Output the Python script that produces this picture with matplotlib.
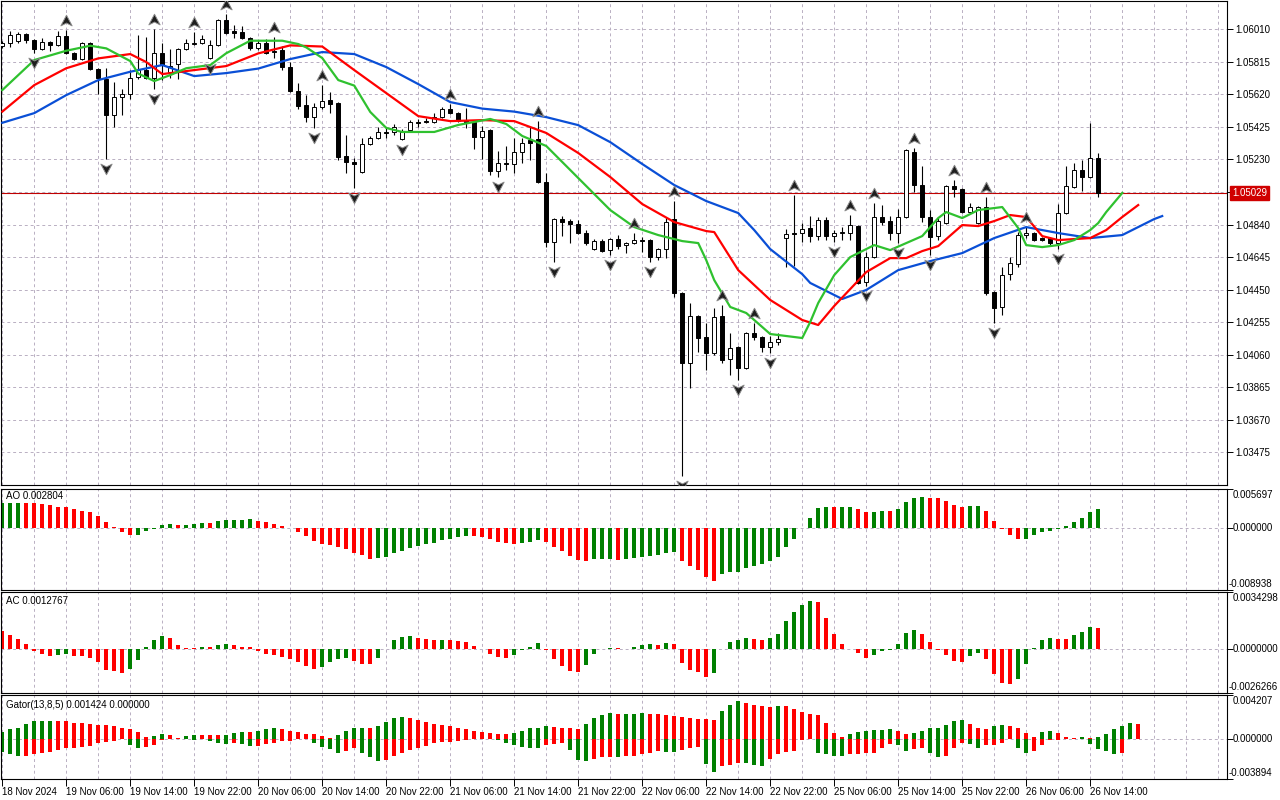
import matplotlib
matplotlib.use("Agg")
import matplotlib.pyplot as plt
import matplotlib.transforms as mtransforms
from matplotlib.path import Path
import numpy as np

plt.rcParams["font.family"] = ["Liberation Sans", "DejaVu Sans"]
plt.rcParams["font.size"] = 7

# EURUSD H1, first bar 18 Nov 22:00, last bar 26 Nov 15:00
opens = [1.05910, 1.05928, 1.05940, 1.05982, 1.05946, 1.05892, 1.05934, 1.05916, 1.05970, 1.05868,
         1.05832, 1.05928, 1.05773, 1.05713, 1.05497, 1.05605, 1.05623, 1.05725, 1.05767, 1.05719,
         1.05868, 1.05755, 1.05802, 1.05892, 1.05922, 1.05928, 1.05838, 1.05916, 1.06066, 1.06000,
         1.05994, 1.05958, 1.05898, 1.05928, 1.05874, 1.05886, 1.05784, 1.05641, 1.05557, 1.05485,
         1.05545, 1.05587, 1.05569, 1.05251, 1.05215, 1.05155, 1.05323, 1.05359, 1.05395, 1.05395,
         1.05353, 1.05407, 1.05455, 1.05461, 1.05455, 1.05485, 1.05533, 1.05509, 1.05467, 1.05455,
         1.05365, 1.05407, 1.05161, 1.05209, 1.05203, 1.05275, 1.05347, 1.05353, 1.05095, 1.04736,
         1.04874, 1.04862, 1.04844, 1.04790, 1.04694, 1.04742, 1.04688, 1.04754, 1.04718, 1.04730,
         1.04748, 1.04748, 1.04646, 1.04694, 1.04874, 1.04430, 1.04011, 1.04292, 1.04166, 1.04071,
         1.04292, 1.04035, 1.04107, 1.03981, 1.04191, 1.04167, 1.04107, 1.04137, 1.04760, 1.04787,
         1.04790, 1.04820, 1.04772, 1.04868, 1.04772, 1.04790, 1.04790, 1.04832, 1.04496, 1.04646,
         1.04886, 1.04862, 1.04790, 1.04886, 1.05275, 1.05077, 1.04886, 1.04772, 1.04850, 1.05071,
         1.05053, 1.04916, 1.04850, 1.04946, 1.04436, 1.04346, 1.04544, 1.04604, 1.04778, 1.04790,
         1.04760, 1.04760, 1.04730, 1.04910, 1.05065, 1.05167, 1.05125, 1.05239]
highs = [1.05940, 1.06000, 1.05994, 1.05988, 1.05952, 1.05958, 1.05940, 1.06000, 1.06006, 1.05874,
         1.05934, 1.05934, 1.05779, 1.05779, 1.05695, 1.05653, 1.05767, 1.05976, 1.05964, 1.06012,
         1.05928, 1.05892, 1.05898, 1.05952, 1.05994, 1.05976, 1.05946, 1.06072, 1.06102, 1.06036,
         1.06030, 1.05964, 1.05946, 1.05952, 1.05964, 1.05910, 1.05814, 1.05689, 1.05617, 1.05568,
         1.05677, 1.05635, 1.05575, 1.05377, 1.05239, 1.05359, 1.05371, 1.05425, 1.05425, 1.05443,
         1.05413, 1.05467, 1.05473, 1.05479, 1.05509, 1.05545, 1.05563, 1.05515, 1.05539, 1.05461,
         1.05431, 1.05413, 1.05281, 1.05311, 1.05359, 1.05359, 1.05425, 1.05461, 1.05149, 1.04880,
         1.04892, 1.04874, 1.04868, 1.04808, 1.04754, 1.04754, 1.04760, 1.04778, 1.04736, 1.04790,
         1.04766, 1.04754, 1.04700, 1.04886, 1.04981, 1.04436, 1.04370, 1.04298, 1.04250, 1.04340,
         1.04358, 1.04191, 1.04113, 1.04197, 1.04250, 1.04173, 1.04173, 1.04191, 1.04814, 1.05017,
         1.04850, 1.04892, 1.04886, 1.04886, 1.04808, 1.04826, 1.04898, 1.04838, 1.04676, 1.04970,
         1.04958, 1.04892, 1.04934, 1.05293, 1.05299, 1.05191, 1.04928, 1.04886, 1.05077, 1.05107,
         1.05059, 1.04970, 1.04952, 1.05005, 1.04442, 1.04586, 1.04646, 1.04796, 1.04826, 1.04796,
         1.04766, 1.04766, 1.04964, 1.05191, 1.05209, 1.05227, 1.05449, 1.05269]
lows = [1.05898, 1.05904, 1.05928, 1.05928, 1.05868, 1.05886, 1.05880, 1.05910, 1.05862, 1.05826,
        1.05826, 1.05767, 1.05623, 1.05233, 1.05425, 1.05497, 1.05593, 1.05713, 1.05713, 1.05653,
        1.05707, 1.05719, 1.05713, 1.05886, 1.05916, 1.05922, 1.05832, 1.05910, 1.05982, 1.05958,
        1.05952, 1.05886, 1.05886, 1.05862, 1.05838, 1.05767, 1.05635, 1.05533, 1.05455, 1.05419,
        1.05533, 1.05509, 1.05227, 1.05149, 1.05059, 1.05149, 1.05317, 1.05353, 1.05359, 1.05377,
        1.05347, 1.05401, 1.05425, 1.05449, 1.05449, 1.05479, 1.05503, 1.05455, 1.05419, 1.05293,
        1.05233, 1.05137, 1.05125, 1.05167, 1.05149, 1.05209, 1.05227, 1.05089, 1.04706, 1.04616,
        1.04772, 1.04730, 1.04784, 1.04718, 1.04688, 1.04676, 1.04658, 1.04694, 1.04670, 1.04724,
        1.04676, 1.04616, 1.04628, 1.04640, 1.04406, 1.03333, 1.03861, 1.04077, 1.03969, 1.04059,
        1.04011, 1.03939, 1.03909, 1.03975, 1.04148, 1.04077, 1.04071, 1.04119, 1.04586, 1.04592,
        1.04736, 1.04736, 1.04748, 1.04748, 1.04736, 1.04748, 1.04748, 1.04484, 1.04472, 1.04640,
        1.04838, 1.04748, 1.04730, 1.04880, 1.05035, 1.04856, 1.04658, 1.04748, 1.04844, 1.05005,
        1.04910, 1.04910, 1.04844, 1.04418, 1.04250, 1.04298, 1.04508, 1.04586, 1.04760, 1.04742,
        1.04742, 1.04718, 1.04694, 1.04904, 1.05059, 1.05041, 1.05119, 1.05005]
closes = [1.05928, 1.05976, 1.05982, 1.05946, 1.05892, 1.05934, 1.05916, 1.05970, 1.05868, 1.05832,
          1.05928, 1.05773, 1.05719, 1.05497, 1.05605, 1.05623, 1.05719, 1.05767, 1.05719, 1.05868,
          1.05796, 1.05790, 1.05892, 1.05928, 1.05928, 1.05952, 1.05916, 1.06066, 1.05988, 1.05988,
          1.05958, 1.05898, 1.05928, 1.05868, 1.05880, 1.05784, 1.05641, 1.05551, 1.05485, 1.05545,
          1.05580, 1.05563, 1.05245, 1.05215, 1.05203, 1.05323, 1.05359, 1.05395, 1.05389, 1.05425,
          1.05395, 1.05455, 1.05449, 1.05455, 1.05485, 1.05533, 1.05509, 1.05461, 1.05455, 1.05365,
          1.05401, 1.05161, 1.05209, 1.05203, 1.05275, 1.05329, 1.05329, 1.05095, 1.04736, 1.04874,
          1.04856, 1.04844, 1.04790, 1.04730, 1.04742, 1.04682, 1.04754, 1.04712, 1.04730, 1.04748,
          1.04742, 1.04646, 1.04694, 1.04856, 1.04430, 1.04011, 1.04292, 1.04160, 1.04071, 1.04286,
          1.04029, 1.04101, 1.03981, 1.04191, 1.04167, 1.04107, 1.04137, 1.04155, 1.04784, 1.04784,
          1.04814, 1.04772, 1.04868, 1.04772, 1.04790, 1.04796, 1.04838, 1.04490, 1.04646, 1.04886,
          1.04856, 1.04790, 1.04886, 1.05287, 1.05077, 1.04886, 1.04766, 1.04862, 1.05071, 1.05053,
          1.04916, 1.04946, 1.04946, 1.04430, 1.04340, 1.04538, 1.04610, 1.04778, 1.04790, 1.04748,
          1.04748, 1.04730, 1.04910, 1.05071, 1.05167, 1.05125, 1.05239, 1.05029]
last_price = 1.05029

# fractal bars (index of the bar carrying the arrow)
frac_up = [8, 19, 24, 28, 34, 40, 56, 67, 79, 84, 90, 94, 99, 106, 109, 114, 119, 123, 128]
frac_dn = [4, 13, 19, 26, 39, 44, 50, 62, 69, 76, 81, 85, 92, 96, 104, 108, 112, 116, 124, 132]

# Alligator lines (bar index, price), shifted lines run past the last bar
jaw_idx = [0, 4, 8, 12, 16, 20, 24, 28, 32, 36, 40, 44, 48, 52, 56, 60, 64, 68, 72, 76,
           80, 84, 88, 92, 94, 96, 100, 101, 105, 108, 112, 116, 120, 124, 128, 132, 136, 140, 144, 145]
jaw_val = [1.05450, 1.05508, 1.05616, 1.05706, 1.05756, 1.05796, 1.05730, 1.05748, 1.05775, 1.05832,
           1.05874, 1.05862, 1.05784, 1.05682, 1.05574, 1.05535, 1.05517, 1.05484, 1.05436, 1.05334,
           1.05203, 1.05077, 1.04981, 1.04909, 1.04807, 1.04693, 1.04543, 1.04490, 1.04394, 1.04448,
           1.04567, 1.04621, 1.04669, 1.04759, 1.04825, 1.04789, 1.04759, 1.04777, 1.04873, 1.04891]
teeth_idx = [0, 4, 8, 12, 16, 18, 20, 24, 28, 32, 36, 40, 44, 48, 52, 56, 60, 64, 68, 72,
             76, 80, 84, 88, 89, 92, 96, 100, 102, 104, 108, 111, 113, 115, 117, 120, 122, 124, 126, 128,
             130, 132, 136, 138, 140, 142]
teeth_val = [1.05517, 1.05676, 1.05777, 1.05836, 1.05862, 1.05814, 1.05742, 1.05766, 1.05790, 1.05866,
             1.05914, 1.05907, 1.05766, 1.05628, 1.05490, 1.05460, 1.05466, 1.05460, 1.05389, 1.05269,
             1.05125, 1.04963, 1.04855, 1.04801, 1.04795, 1.04567, 1.04388, 1.04268, 1.04238, 1.04352,
             1.04555, 1.04639, 1.04639, 1.04681, 1.04711, 1.04837, 1.04831, 1.04861, 1.04897, 1.04885,
             1.04771, 1.04747, 1.04759, 1.04807, 1.04885, 1.04957]
lips_idx = [0, 4, 8, 11, 13, 16, 17, 19, 21, 23, 26, 28, 31, 35, 37, 38, 40, 42, 44, 46,
            48, 50, 54, 57, 61, 63, 65, 68, 71, 74, 76, 79, 82, 85, 87, 88, 89, 91, 93, 96,
            98, 100, 101, 102, 104, 106, 109, 111, 113, 115, 117, 118, 120, 122, 124, 125, 127, 128, 130, 132,
            134, 136, 137, 138, 140]
lips_val = [1.05646, 1.05826, 1.05882, 1.05912, 1.05896, 1.05820, 1.05745, 1.05700, 1.05736, 1.05777,
            1.05796, 1.05867, 1.05942, 1.05942, 1.05922, 1.05902, 1.05838, 1.05706, 1.05673, 1.05515,
            1.05419, 1.05395, 1.05395, 1.05437, 1.05473, 1.05443, 1.05371, 1.05311, 1.05167, 1.05023,
            1.04927, 1.04825, 1.04777, 1.04741, 1.04729, 1.04627, 1.04507, 1.04346, 1.04310, 1.04184,
            1.04172, 1.04160, 1.04256, 1.04370, 1.04537, 1.04645, 1.04717, 1.04687, 1.04729, 1.04771,
            1.04879, 1.04915, 1.04879, 1.04927, 1.04939, 1.04945, 1.04819, 1.04717, 1.04705, 1.04717,
            1.04747, 1.04807, 1.04849, 1.04915, 1.05029]

# Awesome Oscillator, x 1e-4
ao = [36.1, 36.3, 36.6, 36.3, 36.1, 34.9, 33.5, 31.5, 30.6, 27.7,
      25.8, 23.4, 18.2, 9.6, 2.4, -4.8, -9.6, -9.1, -3.8, -0.5,
      4.8, 6.2, 4.8, 5.0, 6.2, 7.6, 7.4, 10.5, 12.0, 12.2,
      12.4, 13.4, 10.5, 9.1, 6.7, 3.3, 1.0, -4.8, -10.5, -18.2,
      -22.5, -23.9, -26.8, -29.6, -35.4, -39.2, -44.0, -43.5, -41.1, -35.4,
      -32.5, -28.2, -25.3, -22.5, -21.0, -16.7, -15.3, -12.4, -11.0, -11.2,
      -12.9, -15.3, -19.6, -21.0, -22.5, -21.0, -19.6, -16.7, -19.6, -26.8,
      -32.5, -39.7, -46.4, -47.8, -44.9, -44.7, -44.5, -45.2, -44.7, -43.5,
      -42.1, -40.6, -39.2, -36.3, -34.9, -47.8, -55.0, -60.7, -70.7, -76.5,
      -66.4, -63.6, -63.1, -57.8, -55.0, -52.1, -47.8, -42.1, -27.7, -14.8,
      0.2, 14.8, 29.2, 30.6, 30.4, 30.6, 30.8, 27.7, 23.4, 23.7,
      24.9, 24.6, 27.7, 37.8, 43.5, 44.9, 43.5, 43.3, 39.2, 33.5,
      30.6, 32.0, 32.3, 24.9, 10.5, -1.0, -9.1, -15.3, -15.1, -9.1,
      -4.8, -3.3, -0.5, 3.3, 9.1, 14.8, 23.4, 28.04]
ao_prev = 35.8

# Accelerator Oscillator, x 1e-4
ac = [10.8, 8.6, 6.2, 3.2, -0.8, -2.6, -3.8, -3.2, -3.1, -3.8,
      -3.9, -5.2, -7.4, -12.4, -13.0, -14.2, -11.6, -6.2, 1.4, 5.6,
      8.0, 6.8, 2.6, 0.8, 0.6, 1.4, 1.3, 2.6, 3.2, 2.6,
      1.4, 1.3, -1.2, -2.6, -3.2, -4.6, -5.6, -7.4, -9.8, -11.6,
      -10.6, -7.4, -5.6, -5.5, -6.8, -8.6, -8.7, -5.0, 0.1, 5.6,
      7.4, 8.0, 6.8, 6.2, 5.6, 5.7, 5.6, 5.0, 4.4, 2.0,
      0.2, -2.6, -4.4, -5.0, -3.2, -0.6, 1.4, 3.8, -0.4, -5.6,
      -9.8, -12.8, -13.6, -9.2, -2.6, 0.1, 0.6, 0.5, 0.2, 1.4,
      2.6, 3.2, 2.6, 3.8, 3.2, -8.0, -12.2, -13.4, -16.4, -14.0,
      0.1, 4.4, 5.6, 6.8, 6.2, 5.6, 6.8, 9.2, 17.0, 22.4,
      26.6, 29.0, 28.4, 18.8, 9.2, 3.2, 0.2, -2.0, -5.0, -3.2,
      -0.8, -0.2, 3.2, 9.8, 11.6, 9.2, 4.4, -0.4, -3.2, -6.8,
      -7.4, -3.8, -2.0, -5.6, -14.6, -20.0, -20.6, -17.6, -8.6, 0.6,
      5.6, 6.8, 6.2, 6.1, 8.6, 10.4, 13.4, 12.767]
ac_prev = 11.3

# Gator oscillator, x 1e-4 (runs 5 bars past the last candle)
gator_up = [6.8, 8.8, 10.7, 13.7, 16.6, 16.7, 16.9, 16.7, 16.6, 15.3,
            14.6, 13.7, 13.5, 13.3, 11.7, 10.7, 8.8, 6.8, 2.0, 2.1,
            4.9, 3.9, 1.0, 2.9, 3.9, 3.6, 3.4, 3.3, 3.9, 5.9,
            6.8, 6.7, 7.8, 8.8, 9.8, 8.8, 7.8, 6.8, 4.9, 4.7,
            2.9, 1.0, 3.9, 7.8, 9.8, 9.9, 9.8, 11.7, 15.6, 19.5,
            20.5, 19.5, 17.6, 15.6, 13.7, 13.5, 11.7, 10.7, 8.8, 7.8,
            6.8, 5.9, 4.9, 4.7, 5.9, 7.8, 9.8, 10.7, 11.7, 11.5,
            10.7, 9.8, 9.6, 13.7, 19.5, 22.4, 24.4, 23.4, 23.6, 23.7,
            24.4, 24.2, 23.4, 22.4, 21.5, 20.5, 19.5, 19.3, 18.5, 17.6,
            26.3, 32.2, 36.1, 34.1, 32.2, 31.2, 30.2, 31.2, 31.0, 28.3,
            25.4, 23.4, 23.2, 14.6, 5.9, 2.0, 4.9, 6.8, 7.8, 8.0,
            8.1, 8.8, 7.8, 4.9, 5.0, 7.8, 9.8, 9.9, 12.7, 16.6,
            17.6, 13.7, 9.8, 8.8, 11.7, 12.7, 11.7, 9.8, 5.9, 2.0,
            6.8, 7.8, 5.9, 2.0, 1.0, 2.0, 1.0, 2.0, 4.9, 8.8,
            11.7, 14.6, 14.24]
gator_up_prev = 5.5
gator_dn = [-12.7, -15.3, -17.2, -16.3, -14.6, -14.3, -13.3, -11.4, -9.4, -8.8,
            -8.5, -7.5, -4.6, -3.6, -2.6, -0.7, -6.5, -9.4, -8.5, -6.5,
            -1.6, -0.7, -0.3, -0.7, -1.3, -0.7, -2.6, -4.6, -5.5, -4.6,
            -5.5, -7.5, -7.2, -5.5, -4.6, -2.6, -2.0, -0.7, -0.3, -3.9,
            -8.5, -10.4, -13.7, -11.7, -9.4, -13.7, -18.2, -21.1, -20.2, -16.3,
            -13.7, -10.7, -8.8, -7.5, -3.9, -3.7, -2.9, -2.0, -1.0, -0.8,
            -0.6, 0.0, -1.6, -3.9, -5.9, -8.5, -8.6, -8.8, -6.5, -5.5,
            -4.6, -11.4, -20.2, -21.1, -19.2, -18.2, -18.0, -18.2, -17.2, -16.9,
            -15.3, -14.3, -12.4, -12.7, -13.0, -10.7, -8.8, -7.8, -24.4, -32.2,
            -26.0, -25.0, -23.1, -23.7, -25.0, -26.0, -19.5, -14.6, -12.7, -12.4,
            -1.6, 0.0, -13.7, -15.3, -16.3, -17.2, -15.3, -15.1, -13.7, -13.5,
            -9.4, -4.9, -6.5, -11.7, -10.4, -8.8, -13.7, -18.2, -16.3, -8.8,
            -3.9, -5.5, -9.4, -6.5, -6.3, -3.9, 0.0, -9.4, -13.7, -11.7,
            -6.5, -1.6, -1.0, -0.2, -0.1, 0.0, -5.5, -10.4, -12.4, -15.3,
            -14.3, 0.0, 0.0]
gator_dn_prev = -11.0

price_labels = ["1.06010", "1.05815", "1.05620", "1.05425", "1.05230", "", "1.04840",
                "1.04645", "1.04450", "1.04255", "1.04060", "1.03865", "1.03670", "1.03475"]
price_grid = [1.06010, 1.05815, 1.05620, 1.05425, 1.05230, 1.05035, 1.04840,
              1.04645, 1.04450, 1.04255, 1.04060, 1.03865, 1.03670, 1.03475]
time_labels = ["18 Nov 2024", "19 Nov 06:00", "19 Nov 14:00", "19 Nov 22:00", "20 Nov 06:00",
               "20 Nov 14:00", "20 Nov 22:00", "21 Nov 06:00", "21 Nov 14:00", "21 Nov 22:00",
               "22 Nov 06:00", "22 Nov 14:00", "22 Nov 22:00", "25 Nov 06:00", "25 Nov 14:00",
               "25 Nov 22:00", "26 Nov 06:00", "26 Nov 14:00"]
time_tick_bars = [0, 8, 16, 24, 32, 40, 48, 56, 64, 72, 80, 88, 96, 104, 112, 120, 128, 136]

GREEN = "#008000"
RED = "#ff0000"
GRID = "#b9afc2"

W, H = 1280, 800


def rect(top, bottom, left=1, right=1227):
    return [left / W, 1 - bottom / H, (right - left) / W, (bottom - top) / H]


def hist_colors(vals, prev, use_abs=False):
    v = np.asarray(vals, dtype=float)
    before = np.concatenate([[prev], v[:-1]])
    if use_abs:
        grow = np.abs(v) > np.abs(before)
    else:
        grow = v > before
    return np.where(grow, GREEN, RED)


fig = plt.figure(figsize=(12.8, 8), dpi=100)
ax_p = fig.add_axes(rect(1, 485))
ax_ao = fig.add_axes(rect(489, 590), sharex=ax_p)
ax_ac = fig.add_axes(rect(592, 693), sharex=ax_p)
ax_g = fig.add_axes(rect(695, 779), sharex=ax_p)
axes = [ax_p, ax_ao, ax_ac, ax_g]

ax_p.set_xlim(-0.16, 153.1)

for a in axes:
    for s in a.spines.values():
        s.set_color("black")
        s.set_linewidth(0.8)
    for k in range(0, 154, 4):
        a.axvline(k, color=GRID, lw=0.7, ls=(0, (3, 3)), zorder=0)
    a.tick_params(axis="x", bottom=False, labelbottom=False)
    a.yaxis.tick_right()
    a.tick_params(axis="y", direction="out", length=4, width=0.7, pad=2, labelsize=7)

# ---- price panel ----
o = np.array(opens)
h = np.array(highs)
l = np.array(lows)
c = np.array(closes)
x = np.arange(len(o))

for p in price_grid:
    ax_p.axhline(p, color=GRID, lw=0.7, ls=(0, (3, 3)), zorder=0)
ax_p.axhline(last_price, color="#c00000", lw=0.8, zorder=1)

ax_p.vlines(x, l, h, color="black", lw=0.8, zorder=2)
bull = c >= o
ax_p.bar(x, np.abs(c - o), bottom=np.minimum(o, c), width=0.5,
         color=np.where(bull, "white", "black"), edgecolor="black", linewidth=0.7, zorder=3)

ax_p.plot(jaw_idx, jaw_val, color="#0a4fd6", lw=1.6, zorder=4)
ax_p.plot(teeth_idx, teeth_val, color="#ff0000", lw=1.6, zorder=4)
ax_p.plot(lips_idx, lips_val, color="#2fc12f", lw=1.6, zorder=4)

# fractal arrowheads
arrow_up = Path([(0, 1), (0.9, -0.7), (0, -0.25), (-0.9, -0.7), (0, 1)],
                [Path.MOVETO, Path.LINETO, Path.LINETO, Path.LINETO, Path.CLOSEPOLY])
arrow_dn = Path([(0, -1), (0.9, 0.7), (0, 0.25), (-0.9, 0.7), (0, -1)],
                [Path.MOVETO, Path.LINETO, Path.LINETO, Path.LINETO, Path.CLOSEPOLY])
tr_up = mtransforms.offset_copy(ax_p.transData, fig=fig, x=0, y=9, units="dots")
tr_dn = mtransforms.offset_copy(ax_p.transData, fig=fig, x=0, y=-9, units="dots")
ax_p.plot(frac_up, h[frac_up], ls="none", marker=arrow_up, ms=9, mfc="#1e1e1e",
          mec="#8c8c8c", mew=0.7, transform=tr_up, zorder=5)
ax_p.plot(frac_dn, l[frac_dn], ls="none", marker=arrow_dn, ms=9, mfc="#1e1e1e",
          mec="#8c8c8c", mew=0.7, transform=tr_dn, zorder=5)

ax_p.set_ylim(1.03279, 1.06180)
ax_p.set_yticks(price_grid)
ax_p.set_yticklabels(price_labels)
ax_p.annotate(f"{last_price:.5f}", xy=(1, last_price), xycoords=("axes fraction", "data"),
              xytext=(5, 0), textcoords="offset pixels", ha="left", va="center",
              color="white", fontsize=7,
              bbox=dict(boxstyle="square,pad=0.2", fc="#d00000", ec="#d00000"))


# ---- indicator panels ----
def side_labels(ax, lo, hi, labels):
    top_lab, zero_lab, bot_lab = labels
    tr = ax.get_yaxis_transform()
    ax.text(1, hi, top_lab, transform=mtransforms.offset_copy(tr, fig=fig, x=6, y=-1, units="dots"),
            ha="left", va="top", fontsize=7, clip_on=False)
    ax.text(1, 0, zero_lab, transform=mtransforms.offset_copy(tr, fig=fig, x=6, y=0, units="dots"),
            ha="left", va="center", fontsize=7, clip_on=False)
    ax.text(1, lo, bot_lab, transform=mtransforms.offset_copy(tr, fig=fig, x=2, y=1, units="dots"),
            ha="left", va="bottom", fontsize=7, clip_on=False)


def indicator(ax, vals, colors, lo, hi, labels, title, title_y):
    xs = np.arange(len(vals))
    ax.axhline(0, color=GRID, lw=0.7, ls=(0, (3, 3)), zorder=0)
    ax.bar(xs, np.asarray(vals) * 1e-4, width=0.5, color=colors, linewidth=0, zorder=2)
    ax.set_ylim(lo, hi)
    ax.set_yticks([lo, 0, hi])
    ax.tick_params(axis="y", labelright=False)
    fig.text(6 / W, 1 - title_y / H, title, ha="left", va="center", fontsize=7)
    side_labels(ax, lo, hi, labels)


indicator(ax_ao, ao, hist_colors(ao, ao_prev), -0.008938, 0.005697,
          ("0.005697", "0.000000", "-0.008938"), "AO 0.002804", 496)
indicator(ax_ac, ac, hist_colors(ac, ac_prev), -0.0026266, 0.0034298,
          ("0.0034298", "0.0000000", "-0.0026266"), "AC 0.0012767", 601)

xg = np.arange(len(gator_up))
ax_g.axhline(0, color=GRID, lw=0.7, ls=(0, (3, 3)), zorder=0)
ax_g.bar(xg, np.asarray(gator_up) * 1e-4, width=0.5,
         color=hist_colors(gator_up, gator_up_prev, use_abs=True), linewidth=0, zorder=2)
ax_g.bar(xg, np.asarray(gator_dn) * 1e-4, width=0.5,
         color=hist_colors(gator_dn, gator_dn_prev, use_abs=True), linewidth=0, zorder=2)
ax_g.set_ylim(-0.003894, 0.004207)
ax_g.set_yticks([-0.003894, 0, 0.004207])
ax_g.tick_params(axis="y", labelright=False)
fig.text(6 / W, 1 - 705 / H, "Gator(13,8,5) 0.001424 0.000000", ha="left", va="center", fontsize=7)
side_labels(ax_g, -0.003894, 0.004207, ("0.004207", "0.000000", "-0.003894"))

# time axis under the last panel
ax_g.set_xticks(time_tick_bars)
ax_g.set_xticklabels(time_labels, ha="left")
ax_g.tick_params(axis="x", bottom=True, labelbottom=True, direction="out",
                 length=5, width=0.7, pad=1, labelsize=7)
ax_p.set_xlim(-0.16, 153.1)

fig.savefig("out.png", dpi=100, facecolor="white")
